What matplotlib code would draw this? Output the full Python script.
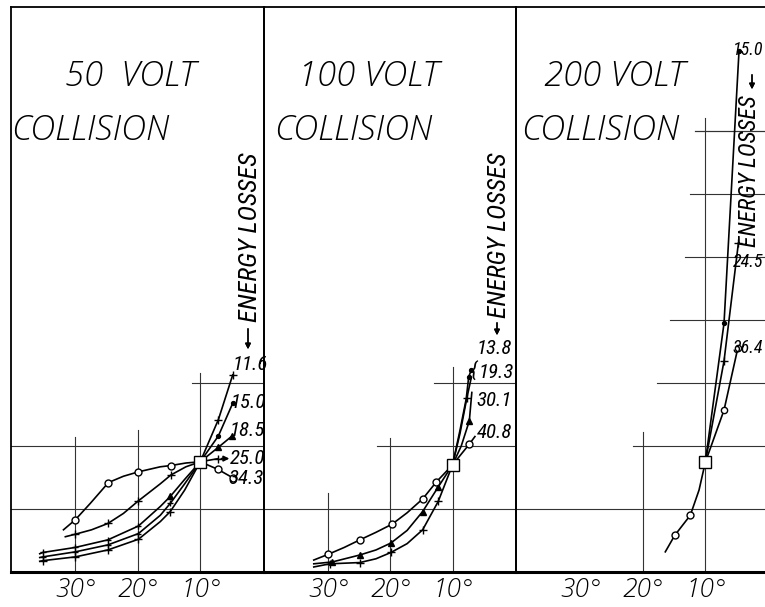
import matplotlib
matplotlib.use("Agg")
import matplotlib.pyplot as plt

W, H = 765, 607

# ---- data: angle (degrees) vs. relative intensity (grid units) ----
panel_titles = ["50  VOLT", "100 VOLT", "200 VOLT"]
subtitle = "COLLISION"
tick_angles = [30, 20, 10]
tick_labels = ["30°", "20°", "10°"]
axis_label = "ENERGY LOSSES"

# 50 volt collision
v50_116_ang = [35.7, 35.2, 30.0, 24.8, 19.9, 16.4, 14.8, 12.5, 10.0, 7.1, 4.8]
v50_116_val = [0.17, 0.18, 0.24, 0.35, 0.52, 0.80, 0.96, 1.30, 1.75, 2.42, 3.13]
v50_150_ang = [35.7, 35.2, 30.0, 24.8, 19.9, 16.4, 14.8, 12.5, 10.0, 7.1, 4.8]
v50_150_val = [0.23, 0.24, 0.32, 0.43, 0.61, 0.90, 1.09, 1.40, 1.75, 2.16, 2.68]
v50_185_ang = [35.7, 35.2, 30.0, 24.8, 19.9, 16.4, 14.8, 12.5, 10.0, 7.1, 4.9]
v50_185_val = [0.29, 0.31, 0.39, 0.51, 0.73, 1.04, 1.20, 1.47, 1.75, 1.98, 2.16]
v50_250_ang = [31.6, 30.0, 27.4, 24.8, 22.3, 19.9, 16.4, 14.7, 12.3, 10.0, 7.1, 4.9]
v50_250_val = [0.56, 0.60, 0.67, 0.77, 0.93, 1.13, 1.40, 1.54, 1.67, 1.75, 1.80, 1.80]
v50_343_ang = [31.9, 30.0, 27.6, 24.7, 22.3, 19.9, 16.4, 14.7, 12.3, 10.0, 7.2, 4.7]
v50_343_val = [0.67, 0.83, 1.09, 1.42, 1.52, 1.59, 1.67, 1.69, 1.73, 1.75, 1.63, 1.49]

# 100 volt collision
v100_138_ang = [10.0, 8.8, 7.8, 7.4, 7.0]
v100_138_val = [1.70, 2.25, 2.75, 3.10, 3.20]
v100_193_ang = [32.3, 29.7, 24.9, 22.3, 19.9, 17.3, 14.8, 12.3, 10.0, 8.8, 7.7, 7.0]
v100_193_val = [0.08, 0.13, 0.15, 0.21, 0.31, 0.45, 0.67, 1.12, 1.70, 2.20, 2.76, 3.08]
v100_301_ang = [32.3, 29.3, 24.9, 22.3, 19.9, 17.3, 14.8, 12.3, 10.0, 8.6, 7.3, 6.9]
v100_301_val = [0.13, 0.16, 0.27, 0.35, 0.46, 0.66, 0.96, 1.35, 1.70, 2.00, 2.40, 2.85]
v100_408_ang = [32.3, 30.0, 27.4, 24.9, 22.3, 19.7, 17.3, 14.8, 12.6, 10.0, 7.3, 6.4]
v100_408_val = [0.19, 0.28, 0.39, 0.51, 0.63, 0.76, 0.94, 1.16, 1.43, 1.70, 2.03, 2.15]

# 200 volt collision
v200_low_ang = [16.4, 14.9, 12.4, 11.0, 10.0]
v200_low_val = [0.32, 0.58, 0.90, 1.30, 1.74]
v200_150_ang = [10.0, 7.0, 4.6]
v200_150_val = [1.74, 3.95, 8.27]
v200_245_ang = [10.0, 7.0, 4.7]
v200_245_val = [1.74, 3.35, 5.22]
v200_364_ang = [10.0, 7.0, 4.8]
v200_364_val = [1.74, 2.57, 3.55]

# value labels for the energy losses
v50_labels = ["11.6", "15.0", "18.5", "25.0", "34.3"]
v100_labels = ["13.8", "19.3", "30.1", "40.8"]
v200_labels = ["15.0", "24.5", "36.4"]

# ---- figure layout ----
fig = plt.figure(figsize=(W / 100, H / 100), dpi=100)
fig.patch.set_facecolor("white")


def fx(px):
    return px / W


def fy(py):
    return 1 - py / H


panel_px = [(11, 264), (264, 516), (516, 769)]
top_px, bot_px = 7, 572
XLIM = (40.3, -0.2)
YLIM = (0, (bot_px - top_px) / 63.0)

axes = []
for (l, r) in panel_px:
    ax = fig.add_axes([fx(l), fy(bot_px), (r - l) / W, (bot_px - top_px) / H])
    ax.set_xlim(*XLIM)
    ax.set_ylim(*YLIM)
    ax.set_xticks([])
    ax.set_yticks([])
    for s in ax.spines.values():
        s.set_linewidth(1.3)
        s.set_color("black")
    ax.spines["bottom"].set_linewidth(2.2)
    ax.patch.set_alpha(0)
    axes.append(ax)

GRID = dict(color="#333333", lw=0.8, zorder=1)
# horizontal grid segments: (level, start angle); vertical: (angle, top level)
grid_h = [
    [(1, 40.3), (2, 40.3), (3, 11.3)],
    [(1, 40.3), (2, 22.2), (3, 12.9)],
    [(1, 40.3), (2, 21.6), (3, 17.7), (4, 15.6), (5, 13.2), (6, 12.4), (7, 11.6)],
]
grid_v = [
    [(30, 2.14), (20, 2.25), (10, 3.16)],
    [(30, 1.25), (20, 2.12), (10, 3.25)],
    [(20, 2.22), (10, 7.2)],
]
for ax, gh, gv in zip(axes, grid_h, grid_v):
    for lvl, a0 in gh:
        ax.plot([a0, -0.2], [lvl, lvl], **GRID)
    for a, top in gv:
        ax.plot([a, a], [0, top], **GRID)

LINE = dict(color="black", lw=1.2, zorder=3, solid_joinstyle="round")


def curve(ax, ang, val, marker, idx, ms=4.5, mfc="black", mew=1.0):
    ax.plot(ang, val, marker=marker, markevery=idx, ms=ms, mfc=mfc,
            mec="black", mew=mew, **LINE)


# 50 volt panel
a1 = axes[0]
curve(a1, v50_116_ang, v50_116_val, "+", [1, 2, 3, 4, 6, 9, 10], ms=6)
curve(a1, v50_150_ang, v50_150_val, "+", [1, 2, 3, 4, 6], ms=5)
a1.plot(v50_150_ang[9:], v50_150_val[9:], "o", ms=2.8, color="black", zorder=4)
curve(a1, v50_185_ang, v50_185_val, "+", [1, 2, 3, 4], ms=5)
a1.plot(v50_185_ang[6:7] + v50_185_ang[9:], v50_185_val[6:7] + v50_185_val[9:],
        "^", ms=4, color="black", zorder=4)
curve(a1, v50_250_ang[:-1], v50_250_val[:-1], "+", [1, 3, 5, 7, 10], ms=6)
a1.annotate("", xy=(v50_250_ang[-1], v50_250_val[-1]),
            xytext=(v50_250_ang[-2], v50_250_val[-2]),
            arrowprops=dict(arrowstyle="-|>", color="black", lw=1.2,
                            mutation_scale=8))
curve(a1, v50_343_ang, v50_343_val, "o", [1, 3, 5, 7, 10, 11], ms=5, mfc="white")

# 100 volt panel
a2 = axes[1]
curve(a2, v100_138_ang, v100_138_val, "o", [3, 4], ms=2.8)
curve(a2, v100_193_ang, v100_193_val, "+", [1, 2, 4, 6, 7, 10], ms=6)
curve(a2, v100_301_ang, v100_301_val, "^", [1, 2, 4, 6, 7, 10], ms=4)
curve(a2, v100_408_ang, v100_408_val, "o", [1, 3, 5, 7, 8, 10], ms=5, mfc="white")

# 200 volt panel
a3 = axes[2]
curve(a3, v200_low_ang, v200_low_val, "o", [1, 2], ms=5, mfc="white")
curve(a3, v200_150_ang, v200_150_val, "o", [1, 2], ms=2.8)
curve(a3, v200_245_ang, v200_245_val, "+", [1, 2], ms=6)
curve(a3, v200_364_ang, v200_364_val, "o", [1, 2], ms=4.5, mfc="white")

# common point of all curves
for ax, v in zip(axes, [1.75, 1.70, 1.74]):
    ax.plot([10], [v], "s", ms=8, mfc="white", mec="black", mew=1.0, zorder=5)

# ---- text ----
TITLE = dict(family=["Open Sans", "DejaVu Sans"], fontweight="light",
             style="italic", color="black", va="center", ha="center")
title_pos = [(130, 76), (369, 76), (614, 76)]
sub_pos = [(90, 131), (353, 131), (600, 131)]
for t, (x, y) in zip(panel_titles, title_pos):
    fig.text(fx(x), fy(y), t, fontsize=25, **TITLE)
for (x, y) in sub_pos:
    fig.text(fx(x), fy(y), subtitle, fontsize=25, **TITLE)
# line running out of the third subtitle
a3.plot([11.6, -0.2], [7, 7], **GRID)

TICK = dict(family=["Open Sans", "DejaVu Sans"], fontweight="light",
            style="italic", fontsize=19, ha="center", va="center")
for ax in axes:
    for a, lab in zip(tick_angles, tick_labels):
        ax.text(a, -0.29, lab, **TICK)

NARROW = ["Roboto Condensed", "Noto Sans", "DejaVu Sans"]
LBL = dict(family=NARROW, fontstretch="extra-condensed", style="italic",
           va="center", color="black")
for lab, (x, y) in zip(v50_labels, [(250, 365), (248, 402), (247, 430),
                                     (247, 458), (246, 478)]):
    fig.text(fx(x), fy(y), lab, ha="center", fontsize=15, **LBL)
fig.text(fx(494), fy(348), v100_labels[0], ha="center", fontsize=15, **LBL)
fig.text(fx(477), fy(372), "{", ha="right", fontsize=15, **LBL)
fig.text(fx(479), fy(373), v100_labels[1], ha="left", fontsize=15, **LBL)
fig.text(fx(494), fy(400), v100_labels[2], ha="center", fontsize=15, **LBL)
fig.text(fx(495), fy(432), v100_labels[3], ha="center", fontsize=15, **LBL)
for lab, y in zip(v200_labels, [50, 262, 348]):
    fig.text(fx(763), fy(y), lab, ha="right", fontsize=13, **LBL)

# rotated axis captions with arrows
CAP = dict(family=NARROW, fontstretch="extra-condensed", style="italic",
           rotation=90, ha="center", va="bottom", color="black")
cap_spec = [(250, 322, 19), (499, 318, 18.5), (749, 247, 17)]
for (x, y, fs) in cap_spec:
    fig.text(fx(x), fy(y), axis_label, fontsize=fs, **CAP)
ARW = dict(arrowstyle="-|>", color="black", lw=1.0, mutation_scale=8)
for (x, y0, y1) in [(248, 326, 352), (497, 320, 338), (752, 72, 92)]:
    fig.add_artist(plt.annotate("", xy=(fx(x), fy(y1)), xytext=(fx(x), fy(y0)),
                                xycoords="figure fraction",
                                textcoords="figure fraction", arrowprops=ARW))

fig.savefig("out.png", dpi=100, facecolor="white")
